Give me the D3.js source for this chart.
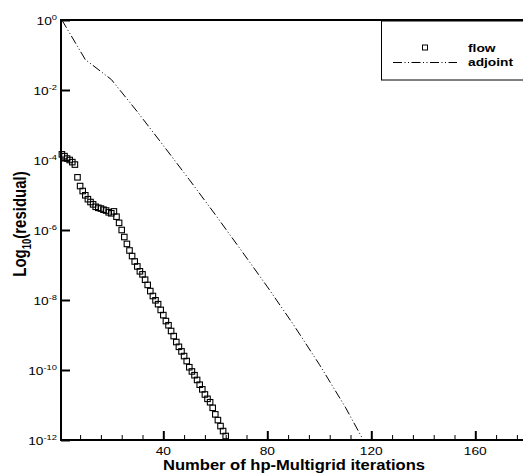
<!DOCTYPE html>
<html><head><meta charset="utf-8">
<script src="https://cdn.jsdelivr.net/npm/d3@7/dist/d3.min.js"></script>
<style>
html,body{margin:0;padding:0;background:#fff;}
svg{display:block;}
text{font-family:"Liberation Sans",Arial,Helvetica,sans-serif;fill:#000;}
</style></head>
<body>
<svg id="chart" width="523" height="474"></svg>
<script>
// ---- data ----
const flowIter = d3.range(1, 65);
const flowResidual = [
  1.45e-4, 1.29e-4, 1.10e-4, 1.00e-4, 8.7e-5, 7.4e-5, 3.2e-5, 1.8e-5, 1.3e-5, 9.8e-6,
  7.6e-6, 6.3e-6, 5.4e-6, 4.6e-6, 4.3e-6, 4.1e-6, 3.8e-6, 3.6e-6, 3.2e-6, 3.0e-6,
  3.4e-6, 2.4e-6, 1.6e-6, 1.0e-6, 6.3e-7, 4.0e-7, 2.6e-7, 1.8e-7, 1.26e-7, 9.1e-8,
  6.6e-8, 5.4e-8, 3.8e-8, 2.7e-8, 1.8e-8, 1.3e-8, 9.8e-9, 7.6e-9, 5.2e-9, 3.7e-9,
  2.5e-9, 1.9e-9, 1.3e-9, 9.3e-10, 6.3e-10, 4.6e-10, 3.4e-10, 2.5e-10, 1.8e-10, 1.2e-10,
  9.1e-11, 7.1e-11, 5.2e-11, 3.8e-11, 2.8e-11, 2.0e-11, 1.5e-11, 1.2e-11, 8.3e-12, 5.4e-12,
  3.7e-12, 2.5e-12, 1.8e-12, 1.3e-12
];
const adjointIter = [1, 10, 20, 30, 40, 50, 60, 70, 80, 90, 100, 110, 118];
const adjointResidual = [1, 7.4e-2, 2.0e-2, 2.4e-3, 2.6e-4, 2.75e-5, 2.75e-6, 2.6e-7, 2.4e-8, 2.0e-9, 1.45e-10, 8.7e-12, 7.1e-13];
const xMajorTicks = [40, 80, 120, 160];
const xMinorTicks = [8, 16, 24, 32, 48, 56, 64, 72, 88, 96, 104, 112, 128, 136, 144, 152, 168, 176];
const yTickExponents = [0, -2, -4, -6, -8, -10, -12];
const seriesNames = ["flow", "adjoint"];
const xTitle = "Number of hp-Multigrid iterations";

// ---- layout ----
const svg = d3.select("#chart");
const L = 61, T = 20, B = 440, R = 527;
const SX = 1.25; // horizontal stretch of the original text
const x = d3.scaleLinear().domain([0, 180]).range([59.3, 527.3]);
const y = d3.scaleLog().domain([1e-12, 1]).range([B, T]);
const dashAdj = "9,2.5,1,2.5,1,2.5";

svg.append("defs").append("clipPath").attr("id", "clip")
  .append("rect").attr("x", L).attr("y", T).attr("width", R - L).attr("height", B - T);

// x axis major ticks
const gx = svg.append("g").attr("transform", `translate(0,${B})`)
  .call(d3.axisBottom(x).tickValues(xMajorTicks).tickSizeInner(-9).tickSizeOuter(0).tickFormat(""));
gx.select(".domain").remove();
gx.selectAll(".tick line").attr("stroke", "#000").attr("stroke-width", 2);
gx.selectAll(".tick text").remove();
xMajorTicks.forEach(v => {
  svg.append("text").attr("transform", `translate(${x(v)},455) scale(${SX},1)`)
    .attr("text-anchor", "middle").attr("font-size", 11).text(d3.format("d")(v));
});

// x minor ticks
const gxm = svg.append("g").attr("transform", `translate(0,${B})`)
  .call(d3.axisBottom(x).tickValues(xMinorTicks).tickSizeInner(-5).tickSizeOuter(0).tickFormat(""));
gxm.select(".domain").remove();
gxm.selectAll(".tick line").attr("stroke", "#000").attr("stroke-width", 1);

// y axis ticks
const gy = svg.append("g").attr("transform", `translate(${L},0)`)
  .call(d3.axisLeft(y).tickValues(yTickExponents.map(e => Math.pow(10, e))).tickSizeInner(-9).tickSizeOuter(0).tickFormat(""));
gy.select(".domain").remove();
gy.selectAll(".tick line").attr("stroke", "#000").attr("stroke-width", 2);
gy.selectAll(".tick text").remove();
yTickExponents.forEach(e => {
  const t = svg.append("text").attr("transform", `translate(57,${y(Math.pow(10, e)) + 4.5}) scale(${SX},1)`)
    .attr("text-anchor", "end").attr("font-size", 11);
  t.append("tspan").text("10");
  t.append("tspan").attr("font-size", 7.5).attr("dy", -5).text(String(e));
});

// frame
svg.append("path").attr("d", `M${R},${T}H${L}V${B}H${R}`)
  .attr("fill", "none").attr("stroke", "#000").attr("stroke-width", 2);

// adjoint line
const line = d3.line().x(d => x(d[0])).y(d => y(d[1]));
svg.append("path").datum(adjointIter.map((it, i) => [it, adjointResidual[i]]))
  .attr("clip-path", "url(#clip)")
  .attr("d", line).attr("fill", "none").attr("stroke", "#000").attr("stroke-width", 1)
  .attr("stroke-dasharray", dashAdj);

// flow markers
const ms = 5.5;
svg.append("g").selectAll("rect").data(flowIter.map((it, i) => [it, flowResidual[i]]))
  .join("rect")
  .attr("x", d => x(d[0]) - ms / 2).attr("y", d => y(d[1]) - ms / 2)
  .attr("width", ms).attr("height", ms)
  .attr("fill", "none").attr("stroke", "#000").attr("stroke-width", 1.1);

// legend
svg.append("rect").attr("x", 381.5).attr("y", 21).attr("width", 200).attr("height", 59)
  .attr("fill", "#fff").attr("stroke", "#000").attr("stroke-width", 1);
svg.append("rect").attr("x", 425 - 2.5).attr("y", 47.5 - 2.5).attr("width", 5).attr("height", 5)
  .attr("fill", "none").attr("stroke", "#000").attr("stroke-width", 1);
svg.append("line").attr("x1", 393).attr("x2", 457).attr("y1", 62.5).attr("y2", 62.5)
  .attr("stroke", "#000").attr("stroke-width", 1).attr("stroke-dasharray", dashAdj);
svg.append("text").attr("transform", `translate(468,51.5) scale(${SX},1)`)
  .attr("font-size", 11).attr("font-weight", "bold").text(seriesNames[0]);
svg.append("text").attr("transform", `translate(468,66) scale(${SX},1)`)
  .attr("font-size", 11).attr("font-weight", "bold").text(seriesNames[1]);

// axis titles
svg.append("text").attr("x", 294).attr("y", 469.5).attr("text-anchor", "middle")
  .attr("font-size", 14.5).attr("font-weight", "bold")
  .attr("textLength", 262).attr("lengthAdjust", "spacingAndGlyphs").text(xTitle);
const yt = svg.append("text").attr("transform", `translate(26,224) scale(${SX},1) rotate(-90)`)
  .attr("text-anchor", "middle").attr("font-size", 15).attr("font-weight", "bold");
yt.append("tspan").text("Log");
yt.append("tspan").attr("font-size", 9.5).attr("dy", 4).text("10");
yt.append("tspan").attr("dy", -4).text("(residual)");
</script>
</body></html>
